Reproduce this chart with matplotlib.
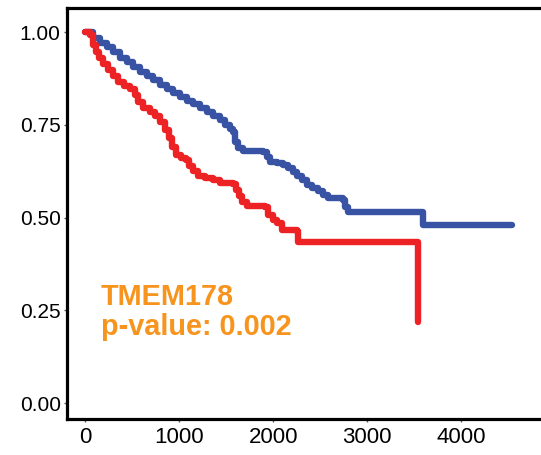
import matplotlib
matplotlib.use("Agg")
import matplotlib.pyplot as plt

# Kaplan-Meier steps (days, survival) for the two expression groups
low_t = [0, 80, 154, 229, 293, 367, 442, 506, 580, 655, 719, 793, 868, 932, 1006,
         1081, 1145, 1219, 1294, 1358, 1432, 1486, 1539, 1571, 1592, 1624, 1677,
         1890, 1933, 1965, 2039, 2103, 2157, 2210, 2252, 2305, 2359, 2412, 2476,
         2529, 2583, 2742, 2764, 2796, 3594, 4543]
low_s = [1.0, 0.984, 0.970, 0.960, 0.946, 0.930, 0.919, 0.906, 0.892, 0.881, 0.871,
         0.857, 0.846, 0.836, 0.825, 0.814, 0.806, 0.795, 0.784, 0.774, 0.763,
         0.749, 0.739, 0.730, 0.704, 0.687, 0.679, 0.677, 0.663, 0.650, 0.647,
         0.642, 0.633, 0.623, 0.612, 0.601, 0.588, 0.580, 0.571, 0.561, 0.553,
         0.547, 0.528, 0.515, 0.480, 0.480]

high_t = [0, 48, 80, 112, 144, 186, 240, 293, 346, 410, 474, 527, 559, 612, 687, 740,
          793, 847, 889, 921, 964, 1017, 1070, 1102, 1145, 1198, 1273, 1358, 1432,
          1571, 1603, 1635, 1667, 1720, 1912, 1944, 1997, 2039, 2092, 2252, 2263,
          3541, 3541]
high_s = [1.0, 0.992, 0.965, 0.946, 0.930, 0.914, 0.898, 0.881, 0.865, 0.855, 0.846,
          0.830, 0.811, 0.795, 0.784, 0.774, 0.757, 0.736, 0.714, 0.690, 0.668,
          0.660, 0.655, 0.639, 0.625, 0.612, 0.606, 0.601, 0.593, 0.590, 0.574,
          0.558, 0.542, 0.531, 0.528, 0.507, 0.493, 0.485, 0.466, 0.464, 0.434,
          0.434, 0.218]

gene = "TMEM178"
pval = "0.002"

blue = "#3953A4"
red = "#ED2224"
orange = "#F7941D"

plt.rcParams['font.family'] = ['Liberation Sans Narrow', 'Liberation Sans', 'DejaVu Sans']

fig = plt.figure(figsize=(5.41, 4.55), dpi=100)
ax = fig.add_axes([0.1238, 0.0791, 0.8762, 0.9033])

ax.step(low_t, low_s, where='post', color=blue, lw=4.6, solid_capstyle='round',
        solid_joinstyle='round')
ax.step(high_t, high_s, where='post', color=red, lw=4.6, solid_capstyle='round',
        solid_joinstyle='round')

ax.text(165, 0.245, f"{gene}\np-value: {pval}", color=orange, fontsize=20.8,
        fontweight='bold', family=['Liberation Sans', 'DejaVu Sans'],
        va='center', ha='left', linespacing=1.12)

ax.set_xlim(-197, 4851)
ax.set_ylim(-0.0431, 1.0647)
ax.set_xticks([0, 1000, 2000, 3000, 4000])
ax.set_yticks([0, 0.25, 0.5, 0.75, 1.0])
ax.set_yticklabels(["0.00", "0.25", "0.50", "0.75", "1.00"])
ax.tick_params(axis='both', length=2.5, width=1, color='#555555',
               pad=2, labelcolor='black')
ax.tick_params(axis='y', labelsize=15)
ax.tick_params(axis='x', labelsize=16, pad=3)

for side in ['left', 'top', 'bottom']:
    ax.spines[side].set_linewidth(2.3)
    ax.spines[side].set_color('black')
ax.spines['right'].set_visible(False)

fig.savefig("out.png", dpi=100)
